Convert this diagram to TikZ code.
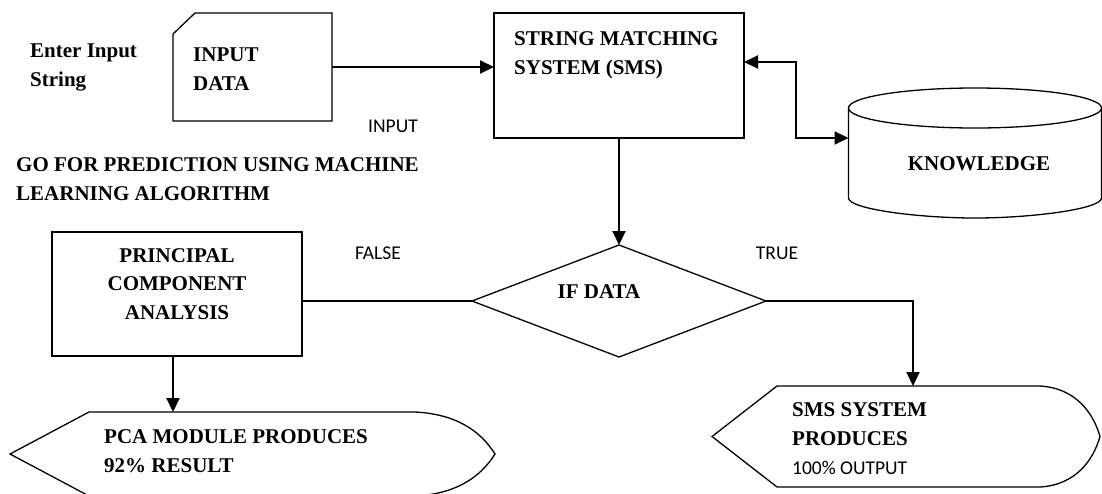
\documentclass[tikz,border=0pt]{standalone}
\usepackage{fontspec}
\setmainfont{Liberation Serif}
\newfontfamily\calibrifont{Carlito}
\usetikzlibrary{arrows.meta,shapes.geometric}
\tikzset{
  outline/.style={draw=black, line width=1.3pt, line join=miter},
  boxnode/.style={rectangle, outline, inner sep=0pt, outer sep=0pt},
  conn/.style={line width=2pt, -{Triangle[length=14pt,width=13pt]}},
  dconn/.style={line width=2pt, {Triangle[length=14pt,width=13pt]}-{Triangle[length=14pt,width=13pt]}},
  plainconn/.style={line width=1.6pt},
  btxt/.style={font=\fontsize{21}{28.5}\selectfont\bfseries, inner sep=0pt, align=left},
  ltxt/.style={font=\calibrifont\fontsize{19.5}{24}\selectfont, inner sep=0pt},
}
\begin{document}
\begin{tikzpicture}[x=1pt,y=-1pt]
\useasboundingbox (0,0) rectangle (1102,493);

% input data (chamfered)
\node[rectangle, inner sep=0pt, outer sep=0pt, minimum width=159pt, minimum height=108pt] (inp) at (252.5,67) {};
\draw[outline] (inp.south west) -- ([yshift=-21pt]inp.north west) -- ([xshift=22pt]inp.north west) -- (inp.north east) -- (inp.south east) -- cycle;
\node[btxt, anchor=base west] (inptxt) at (193,90) {INPUT\\DATA};

% SMS box
\node[boxnode, minimum width=250pt, minimum height=125pt] (sms) at (619,75.5) {};
\node[btxt, anchor=base west] (smstxt) at (514,74) {\fontsize{21}{30}\selectfont STRING MATCHING\\SYSTEM (SMS)};

% knowledge cylinder
\draw[outline] (975,108) circle[x radius=126.5pt, y radius=20pt];
\draw[outline] (848.5,108) -- (848.5,198) .. controls (848.5,209) and (918,218) .. (975,218) .. controls (1032,218) and (1101.5,209) .. (1101.5,198) -- (1101.5,108);
\coordinate (kn) at (848.5,138);
\coordinate (kbend) at (796,138);
\node[btxt, anchor=base] (kntxt) at (979,170) {KNOWLEDGE};

% diamond
\node[diamond, outline, inner sep=0pt, outer sep=0pt, minimum width=294pt, minimum height=112pt] (dia) at (619,301) {};
\node[btxt, anchor=center] (diatxt) at (599,292) {IF DATA};

% PCA box
\node[boxnode, minimum width=250pt, minimum height=124pt] (pca) at (177,294) {};
\node[btxt, anchor=base, align=center] (pcatxt) at (177,319) {PRINCIPAL\\COMPONENT\\ANALYSIS};

% PCA display shape
\coordinate (pcaout) at (173,412);
\draw[outline] (10,454) -- (89,412) -- (415,412) .. controls (455,414) and (480,430) .. (495,454) .. controls (480,478) and (455,494) .. (415,496) -- (89,496) -- cycle;
\node[btxt, anchor=base west] (pcaouttxt) at (104,472) {PCA MODULE PRODUCES\\92\% RESULT};

% SMS display shape
\coordinate (smsout) at (913,386);
\draw[outline] (712,436.5) -- (777,386) -- (1040,386) .. controls (1075,388) and (1093,412) .. (1100,436.5) .. controls (1093,461) and (1075,485) .. (1040,487) -- (777,487) -- cycle;
\node[btxt, anchor=base west] (smsouttxt) at (792,445) {SMS SYSTEM\\PRODUCES};
\node[ltxt, anchor=west] (smsoutpct) at (792,468) {100\% OUTPUT};

% free labels
\node[btxt, anchor=base west] (enter) at (30,86) {Enter Input\\String};
\node[btxt, anchor=base west] (gofor) at (16,200) {GO FOR PREDICTION USING MACHINE\\LEARNING ALGORITHM};
\node[ltxt] (lblinput) at (393,126) {INPUT};
\node[ltxt] (lblfalse) at (378,253) {FALSE};
\node[ltxt] (lbltrue) at (777,253) {TRUE};

% connectors
\draw[conn] (inp.east) -- (inp.east -| sms.west);
\draw[dconn] ([yshift=13.5pt]sms.east) -| (kbend) -- (kn);
\draw[conn] (sms.south) -- (dia.north);
\draw[plainconn] (dia.west) -- (dia.west -| pca.east);
\draw[conn] (dia.east) -| (smsout);
\draw[conn] (pca.south -| pcaout) -- (pcaout);
\end{tikzpicture}
\end{document}
